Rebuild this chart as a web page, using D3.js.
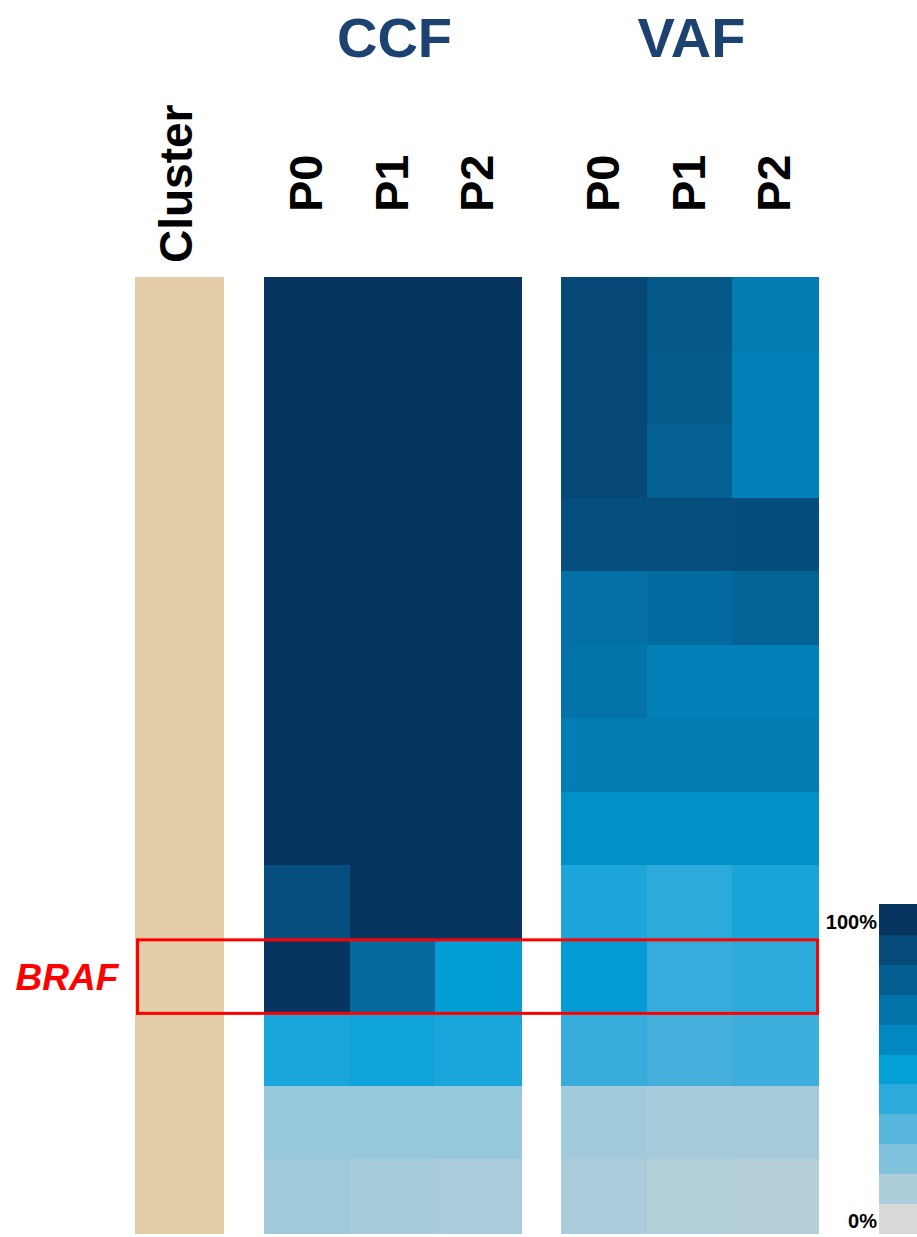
<!DOCTYPE html>
<html>
<head>
<meta charset="utf-8">
<script src="https://cdn.jsdelivr.net/npm/d3@7"></script>
<style>
  html, body { margin: 0; padding: 0; background: #ffffff; }
  svg { display: block; }
  text { font-family: "Liberation Sans", Arial, sans-serif; }
</style>
</head>
<body>
<svg id="chart" width="917" height="1237"></svg>
<script>
// Samples (columns) for both panels
const samples = ["P0", "P1", "P2"];

// Mutation rows, top to bottom; only the highlighted gene carries a label
const rowLabels = ["", "", "", "", "", "", "", "", "", "BRAF", "", "", ""];
const highlightGene = "BRAF";

// Cluster assignment for each row
const clusters = ["C1", "C1", "C1", "C1", "C1", "C1", "C1", "C1", "C1", "C1", "C1", "C1", "C1"];

// Cancer cell fraction per sample
const ccfP0 = [1.00, 1.00, 1.00, 1.00, 1.00, 1.00, 1.00, 1.00, 0.88, 1.00, 0.445, 0.15, 0.13];
const ccfP1 = [1.00, 1.00, 1.00, 1.00, 1.00, 1.00, 1.00, 1.00, 1.00, 0.75, 0.47, 0.15, 0.116];
const ccfP2 = [1.00, 1.00, 1.00, 1.00, 1.00, 1.00, 1.00, 1.00, 1.00, 0.51, 0.445, 0.15, 0.107];

// Variant allele frequency per sample (same colour scale)
const vafP0 = [0.91, 0.91, 0.91, 0.88, 0.71, 0.70, 0.65, 0.567, 0.436, 0.517, 0.374, 0.127, 0.107];
const vafP1 = [0.833, 0.819, 0.795, 0.88, 0.737, 0.63, 0.65, 0.567, 0.40, 0.381, 0.345, 0.116, 0.086];
const vafP2 = [0.664, 0.632, 0.632, 0.885, 0.779, 0.63, 0.65, 0.567, 0.45, 0.40, 0.36, 0.118, 0.084];

// Colour legend stops (0% .. 100%)
const legendStops = [0, 0.1, 0.2, 0.3, 0.4, 0.5, 0.6, 0.7, 0.8, 0.9, 1.0];
const legendColors = ["#d9d9d9", "#adcdda", "#80c1db", "#57b4db", "#2daadc", "#03a0d8",
                      "#0288c0", "#0372a8", "#045f90", "#054a78", "#08355f"];
const legendTicks = ["0%", "100%"];

const clusterColors = { C1: "#e2cda8" };

const svg = d3.select("#chart");

const color = d3.scaleLinear()
  .domain(legendStops)
  .range(legendColors)
  .interpolate(d3.interpolateRgb)
  .clamp(true);

const rowIdx = d3.range(rowLabels.length);
const y = d3.scaleBand().domain(rowIdx).range([277, 1233]).padding(0);

const xCluster = d3.scaleBand().domain(["Cluster"]).range([135, 224]).padding(0);
const xCCF = d3.scaleBand().domain(samples).range([264, 521]).padding(0);
const xVAF = d3.scaleBand().domain(samples).range([561, 818]).padding(0);

const ccf = { P0: ccfP0, P1: ccfP1, P2: ccfP2 };
const vaf = { P0: vafP0, P1: vafP1, P2: vafP2 };

// Cluster column
svg.append("g")
  .attr("shape-rendering", "crispEdges")
  .selectAll("rect")
  .data(rowIdx)
  .join("rect")
  .attr("x", xCluster("Cluster"))
  .attr("y", i => y(i))
  .attr("width", xCluster.bandwidth())
  .attr("height", y.bandwidth() + 1)
  .attr("fill", i => clusterColors[clusters[i]]);

// Heatmap panel
function panel(xs, data, title) {
  const cells = [];
  samples.forEach(s => data[s].forEach((v, i) => cells.push({ s, i, v })));
  const g = svg.append("g");
  g.append("g")
    .attr("shape-rendering", "crispEdges")
    .selectAll("rect")
    .data(cells)
    .join("rect")
    .attr("x", d => xs(d.s))
    .attr("y", d => y(d.i))
    .attr("width", xs.bandwidth() + 1)
    .attr("height", y.bandwidth() + 1)
    .attr("fill", d => color(d.v));

  const [x0, x1] = xs.range();
  g.append("text")
    .attr("x", (x0 + x1) / 2 + 2)
    .attr("y", 57)
    .attr("text-anchor", "middle")
    .attr("font-size", 56)
    .attr("font-weight", "bold")
    .attr("fill", "#1b4270")
    .text(title);

  g.selectAll("text.col")
    .data(samples)
    .join("text")
    .attr("class", "col")
    .attr("transform", s => `translate(${xs(s) + xs.bandwidth() / 2 + 15},212) rotate(-90)`)
    .attr("text-anchor", "start")
    .attr("font-size", 47)
    .attr("font-weight", "bold")
    .attr("fill", "#000")
    .text(s => s);
}

panel(xCCF, ccf, "CCF");
panel(xVAF, vaf, "VAF");

// Cluster column header
svg.append("text")
  .attr("transform", `translate(${xCluster("Cluster") + xCluster.bandwidth() / 2 + 12},263) rotate(-90)`)
  .attr("text-anchor", "start")
  .attr("font-size", 46)
  .attr("font-weight", "bold")
  .attr("fill", "#000")
  .text("Cluster");

// Highlighted gene: label and outline
const hi = rowLabels.indexOf(highlightGene);
svg.append("text")
  .attr("x", 67)
  .attr("y", y(hi) + y.bandwidth() / 2 + 14)
  .attr("text-anchor", "middle")
  .attr("font-size", 37)
  .attr("font-weight", "bold")
  .attr("font-style", "italic")
  .attr("fill", "#ff0000")
  .text(highlightGene);

svg.append("rect")
  .attr("x", xCluster.range()[0] + 2.5)
  .attr("y", y(hi) + 1)
  .attr("width", xVAF.range()[1] - xCluster.range()[0] - 3)
  .attr("height", y.bandwidth())
  .attr("fill", "none")
  .attr("stroke", "#ff0000")
  .attr("stroke-width", 3);

// Colour legend
const ly = d3.scaleBand()
  .domain(legendStops.slice().reverse())
  .range([904, 1233])
  .padding(0);

const lg = svg.append("g");
lg.append("g")
  .attr("shape-rendering", "crispEdges")
  .selectAll("rect")
  .data(legendStops)
  .join("rect")
  .attr("x", 879)
  .attr("y", v => ly(v))
  .attr("width", 40)
  .attr("height", ly.bandwidth() + 1)
  .attr("fill", v => color(v));

lg.selectAll("text")
  .data(legendTicks)
  .join("text")
  .attr("x", 877)
  .attr("y", (t, i) => i === 0 ? 1228 : 929)
  .attr("text-anchor", "end")
  .attr("font-size", 20)
  .attr("font-weight", "bold")
  .attr("fill", "#000")
  .text(t => t);
</script>
</body>
</html>
